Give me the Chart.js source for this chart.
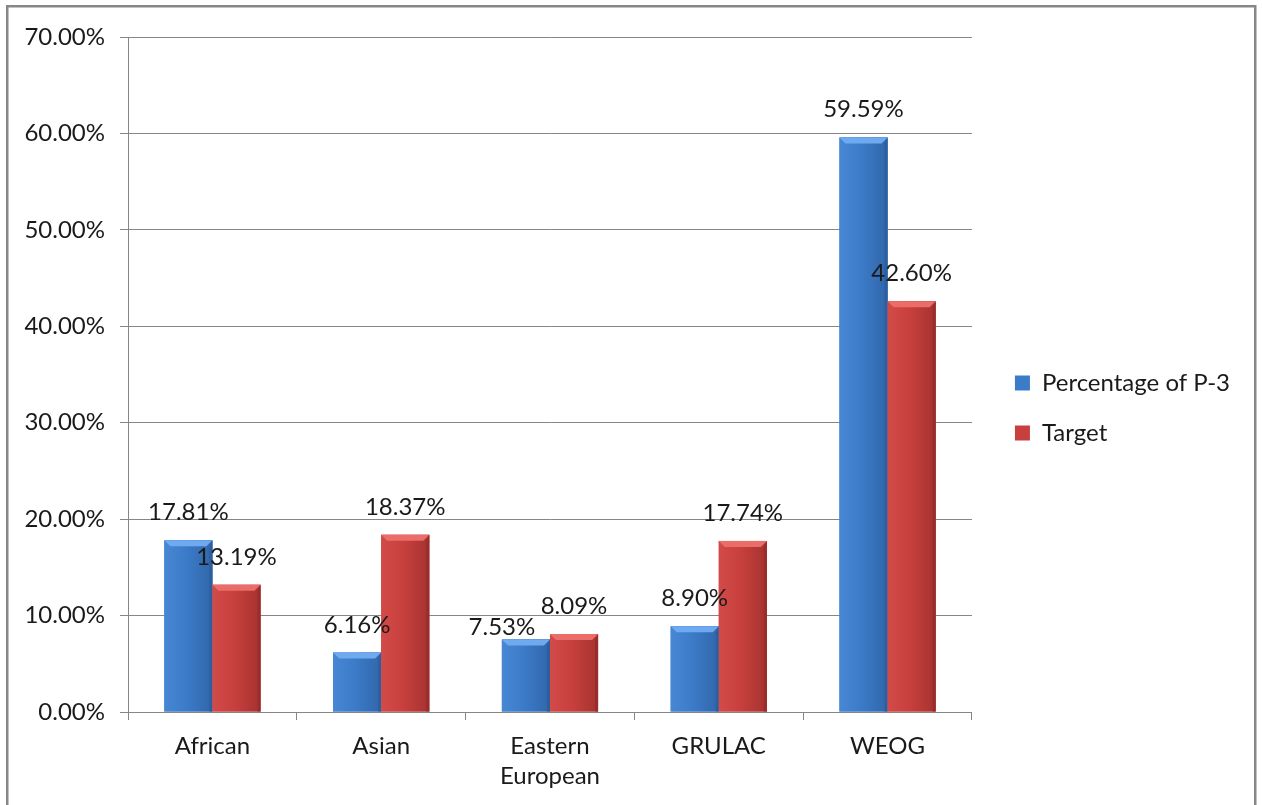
<!DOCTYPE html>
<html><head><meta charset="utf-8">
<script src="https://cdn.jsdelivr.net/npm/chart.js@4.4.0/dist/chart.umd.min.js"></script>
<style>html,body{margin:0;padding:0;background:#fff;}#wrap{width:1262px;height:805px;position:relative;}</style>
</head><body><div id="wrap"><canvas id="c" width="1262" height="805"></canvas></div>
<script>
const categories = ["African", "Asian", ["Eastern", "European"], "GRULAC", "WEOG"];
const seriesNames = ["Percentage of P-3", "Target"];
const percentageOfP3 = [17.81, 6.16, 7.53, 8.90, 59.59];
const target = [13.19, 18.37, 8.09, 17.74, 42.60];
const yMin = 0, yMax = 70, yStep = 10;

const FONT = "Lato";
const FS = 24;
const palettes = [
  {body: "#3c7bc8", light: "#4787d4", dark: "#3166aa", top: "#6faaf0", side: "#2d5f9e"},
  {body: "#c8403d", light: "#d24b48", dark: "#a53230", top: "#ea6d6a", side: "#982d2b"}
];
// manual nudges of individual data labels (dataset index, data index) -> pixel shift
const labelNudges = {"0-2": {dx: -24, dy: 16}};

const bevelPlugin = {
  id: "bevel",
  afterDatasetsDraw(chart) {
    const ctx = chart.ctx;
    ctx.save();
    chart.data.datasets.forEach((ds, di) => {
      const meta = chart.getDatasetMeta(di);
      const p = palettes[di];
      meta.data.forEach(bar => {
        const l = bar.x - bar.width / 2, r = bar.x + bar.width / 2, t = bar.y, b = bar.base;
        const h = b - t;
        const g = ctx.createLinearGradient(l, 0, r, 0);
        g.addColorStop(0, p.light); g.addColorStop(0.45, p.body); g.addColorStop(1, p.dark);
        ctx.fillStyle = g;
        ctx.fillRect(l, t, r - l, h);
        const bv = Math.min(6, h / 2);
        const sv = Math.min(3, h / 2);
        ctx.fillStyle = p.top;
        ctx.beginPath(); ctx.moveTo(l, t); ctx.lineTo(r, t); ctx.lineTo(r - bv, t + bv); ctx.lineTo(l + bv, t + bv); ctx.closePath(); ctx.fill();
        ctx.fillStyle = p.side;
        ctx.beginPath(); ctx.moveTo(r, t); ctx.lineTo(r, b); ctx.lineTo(r - sv, b); ctx.lineTo(r - sv, t + bv); ctx.closePath(); ctx.fill();
      });
    });
    ctx.fillStyle = "#1a1a1a";
    ctx.font = FS + "px " + FONT;
    ctx.textAlign = "center";
    ctx.textBaseline = "alphabetic";
    chart.data.datasets.forEach((ds, di) => {
      const meta = chart.getDatasetMeta(di);
      meta.data.forEach((bar, i) => {
        const n = labelNudges[di + "-" + i] || {dx: 0, dy: 0};
        ctx.fillText(ds.data[i].toFixed(2) + "%", bar.x + n.dx, bar.y - 20 + n.dy);
      });
    });
    ctx.restore();
  }
};

const framePlugin = {
  id: "frame",
  beforeDraw(chart) {
    const ctx = chart.ctx;
    ctx.save();
    ctx.fillStyle = "#ffffff";
    ctx.fillRect(0, 0, chart.width, chart.height);
    ctx.strokeStyle = "#878787";
    ctx.lineWidth = 2.5;
    ctx.strokeRect(7.25, 6.25, 1248, 830);
    ctx.restore();
  },
  afterLayout(chart) {
    if (chart.legend) {
      chart.legend.top -= 13;
      chart.legend.bottom -= 13;
      chart.legend.left += 17;
      chart.legend.right += 17;
    }
  }
};

new Chart(document.getElementById("c"), {
  type: "bar",
  data: {
    labels: categories,
    datasets: [
      {label: seriesNames[0], data: percentageOfP3, backgroundColor: palettes[0].body, borderWidth: 0},
      {label: seriesNames[1], data: target, backgroundColor: palettes[1].body, borderWidth: 0}
    ]
  },
  options: {
    responsive: false,
    devicePixelRatio: 1,
    animation: false,
    layout: {padding: {top: 37, left: 0, right: 39, bottom: 0}},
    datasets: {bar: {categoryPercentage: 0.57, barPercentage: 1}},
    plugins: {
      legend: {
        position: "right",
        labels: {boxWidth: 15, boxHeight: 15, padding: 26, color: "#1a1a1a", font: {family: FONT, size: FS}}
      },
      tooltip: {enabled: false}
    },
    scales: {
      x: {
        grid: {drawOnChartArea: false, offset: true, tickLength: 8, color: "#868686"},
        border: {color: "#868686"},
        ticks: {color: "#1a1a1a", font: {family: FONT, size: FS, lineHeight: 1.25}, padding: 11, maxRotation: 0},
        afterFit: s => { s.height = 93; }
      },
      y: {
        min: yMin, max: yMax,
        ticks: {stepSize: yStep, color: "#1a1a1a", font: {family: FONT, size: FS}, padding: 15,
          callback: v => v.toFixed(2) + "%"},
        grid: {color: "#868686", tickLength: 8},
        border: {color: "#868686"},
        afterFit: s => { s.width = 128; }
      }
    }
  },
  plugins: [framePlugin, bevelPlugin]
});
</script></body></html>
